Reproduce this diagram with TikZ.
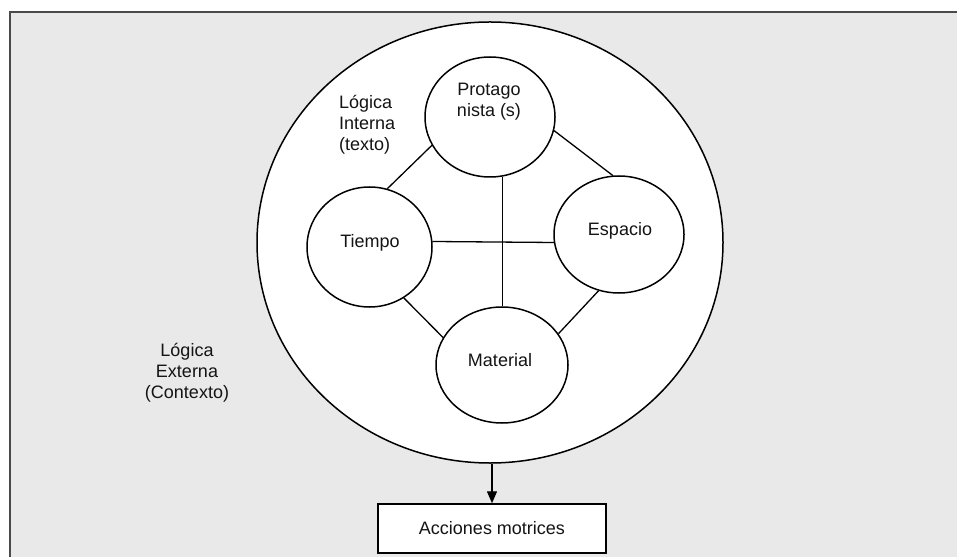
\documentclass[tikz,border=0pt]{standalone}
\usepackage{fontspec}
\setmainfont{Liberation Sans}
\usetikzlibrary{shapes.geometric,arrows.meta}
\definecolor{panel}{HTML}{E9E9E9}
\definecolor{framecol}{HTML}{4A4A4A}
\definecolor{ink}{HTML}{141414}
\begin{document}
\begin{tikzpicture}[x=1bp,y=-1bp,
  every node/.style={font=\fontsize{18bp}{21bp}\selectfont, text=ink},
  bubble/.style={ellipse, draw=black, line width=1.5bp, fill=white, inner sep=0pt},
  link/.style={draw=black, line width=1.3bp},
  label/.style={inner sep=0pt, align=center}]
\useasboundingbox (0,0) rectangle (957,557);
\fill[white] (0,0) rectangle (957,557);
% grey panel, open at the right and bottom
\fill[panel] (10,12) rectangle (960,560);
\draw[framecol, line width=2bp] (10,560) -- (10,12) -- (960,12);

% outer context circle
\node[bubble, minimum width=466bp, minimum height=441bp] (outer) at (490,242.5) {};

% inner elements
\node[bubble, minimum width=130bp, minimum height=120bp] (prot) at (490,117) {};
\node[label] at (489,102) {Protago\\nista (s)};
\node[bubble, minimum width=125bp, minimum height=120bp] (tiempo) at (369.5,247) {};
\node[label] at (370,243) {Tiempo};
\node[bubble, minimum width=130bp, minimum height=117bp] (espacio) at (619,234.5) {};
\node[label] at (620,231) {Espacio};
\node[bubble, minimum width=132bp, minimum height=116bp] (material) at (502,365) {};
\node[label] at (500,360) {Material};

% links between the elements
\draw[link] (prot.206) -- (tiempo.73);
\draw[link] (prot.348) -- (espacio.96);
\draw[link] (tiempo.5) -- (espacio.187);
\draw[link] (prot.282) -- (prot.282 |- material.north);
\draw[link] (tiempo.304) -- (material.155);
\draw[link] (espacio.250) -- (material.29);

% side labels
\node[inner sep=0pt, align=left, anchor=west] (interna) at (339,125) {Lógica\\Interna\\(texto)};
\node[label] (externa) at (187,373) {Lógica\\Externa\\(Contexto)};

% resulting actions
\node[draw=black, line width=1.5bp, fill=white, minimum width=228bp, minimum height=49bp, inner sep=0pt] (acciones) at (492,528.5) {Acciones motrices};
\draw[black, line width=1.4bp, -{Triangle[length=12bp,width=10bp]}] (acciones.north |- outer.south) -- (acciones.north);
\end{tikzpicture}
\end{document}
